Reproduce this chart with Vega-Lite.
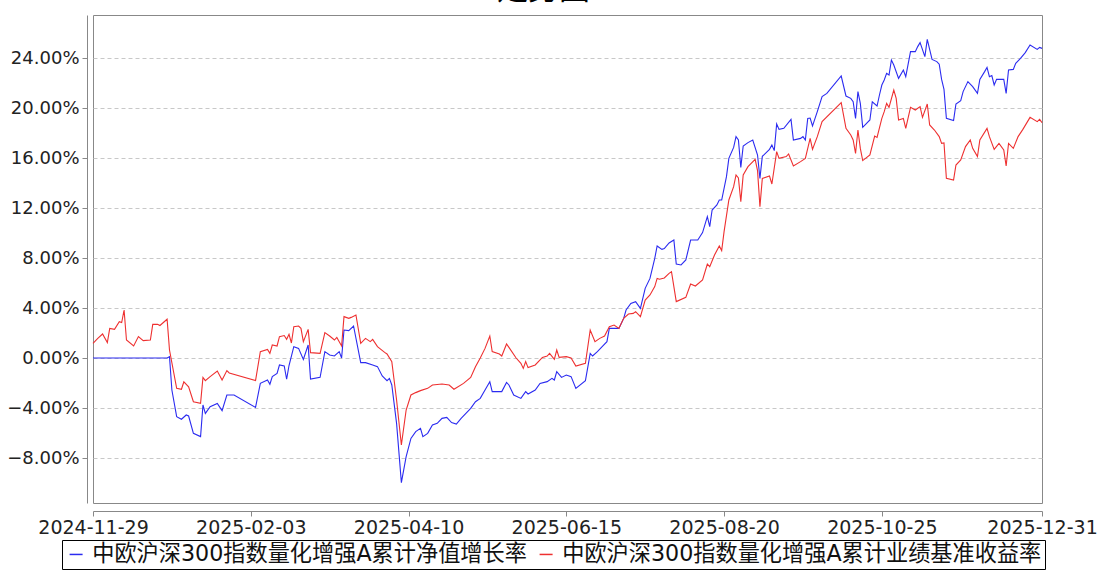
{
"$schema": "https://vega.github.io/schema/vega-lite/v6.json",
"autosize": {"type": "none"},
"width": 949, "height": 488,
"padding": {"left": 93, "top": 15, "right": 56, "bottom": 67},
"background": "white",
"title": {"text": "走势图", "fontSize": 31, "offset": 9, "dx": -24, "font": "Noto Sans CJK SC", "fontWeight": "normal", "color": "black"},
"datasets": {
"a": [
{"d":"2024-11-29","v":0},{"d":"2024-12-30","v":0},{"d":"2024-12-31","v":0.1},{"d":"2025-01-01","v":-2.56},{"d":"2025-01-03","v":-4.69},{"d":"2025-01-05","v":-4.9},{"d":"2025-01-07","v":-4.56},{"d":"2025-01-08","v":-4.64},{"d":"2025-01-10","v":-6.03},{"d":"2025-01-13","v":-6.29},{"d":"2025-01-14","v":-3.76},{"d":"2025-01-15","v":-4.43},{"d":"2025-01-17","v":-3.89},{"d":"2025-01-20","v":-3.63},{"d":"2025-01-22","v":-4.21},{"d":"2025-01-24","v":-2.96},{"d":"2025-01-27","v":-2.96},{"d":"2025-02-05","v":-3.95},{"d":"2025-02-07","v":-2.03},{"d":"2025-02-10","v":-1.76},{"d":"2025-02-11","v":-2.1},{"d":"2025-02-12","v":-1.49},{"d":"2025-02-14","v":-1.23},{"d":"2025-02-15","v":-0.56},{"d":"2025-02-17","v":-0.64},{"d":"2025-02-18","v":-1.7},{"d":"2025-02-19","v":-0.6},{"d":"2025-02-21","v":0.91},{"d":"2025-02-23","v":0.77},{"d":"2025-02-25","v":-0.11},{"d":"2025-02-27","v":1.04},{"d":"2025-02-28","v":-1.68},{"d":"2025-03-04","v":-1.55},{"d":"2025-03-06","v":0.51},{"d":"2025-03-08","v":0.24},{"d":"2025-03-10","v":0.16},{"d":"2025-03-12","v":0.51},{"d":"2025-03-13","v":0.0},{"d":"2025-03-14","v":2.24},{"d":"2025-03-16","v":2.19},{"d":"2025-03-18","v":2.56},{"d":"2025-03-21","v":-0.37},{"d":"2025-03-23","v":-0.37},{"d":"2025-03-26","v":-0.56},{"d":"2025-03-28","v":-0.69},{"d":"2025-03-30","v":-1.44},{"d":"2025-04-01","v":-1.81},{"d":"2025-04-02","v":-1.63},{"d":"2025-04-03","v":-2.16},{"d":"2025-04-05","v":-5.23},{"d":"2025-04-07","v":-9.97},{"d":"2025-04-09","v":-7.89},{"d":"2025-04-11","v":-6.43},{"d":"2025-04-13","v":-5.89},{"d":"2025-04-15","v":-5.63},{"d":"2025-04-16","v":-6.29},{"d":"2025-04-18","v":-6.03},{"d":"2025-04-20","v":-5.36},{"d":"2025-04-22","v":-5.23},{"d":"2025-04-24","v":-4.83},{"d":"2025-04-26","v":-4.75},{"d":"2025-04-28","v":-5.17},{"d":"2025-04-30","v":-5.28},{"d":"2025-05-02","v":-4.83},{"d":"2025-05-04","v":-4.43},{"d":"2025-05-06","v":-4.03},{"d":"2025-05-08","v":-3.5},{"d":"2025-05-10","v":-3.23},{"d":"2025-05-12","v":-2.56},{"d":"2025-05-14","v":-1.89},{"d":"2025-05-15","v":-2.69},{"d":"2025-05-19","v":-2.69},{"d":"2025-05-21","v":-1.95},{"d":"2025-05-22","v":-2.16},{"d":"2025-05-24","v":-2.96},{"d":"2025-05-27","v":-3.23},{"d":"2025-05-29","v":-2.69},{"d":"2025-05-30","v":-2.88},{"d":"2025-06-02","v":-2.56},{"d":"2025-06-04","v":-2.03},{"d":"2025-06-07","v":-1.89},{"d":"2025-06-09","v":-1.63},{"d":"2025-06-10","v":-1.76},{"d":"2025-06-11","v":-1.09},{"d":"2025-06-13","v":-1.55},{"d":"2025-06-15","v":-1.36},{"d":"2025-06-17","v":-1.49},{"d":"2025-06-19","v":-2.43},{"d":"2025-06-23","v":-1.81},{"d":"2025-06-25","v":0.37},{"d":"2025-06-26","v":0.16},{"d":"2025-06-28","v":0.51},{"d":"2025-06-30","v":0.91},{"d":"2025-07-02","v":1.31},{"d":"2025-07-03","v":2.37},{"d":"2025-07-05","v":2.37},{"d":"2025-07-07","v":2.37},{"d":"2025-07-09","v":3.17},{"d":"2025-07-10","v":3.84},{"d":"2025-07-12","v":4.37},{"d":"2025-07-14","v":4.51},{"d":"2025-07-16","v":3.97},{"d":"2025-07-18","v":5.57},{"d":"2025-07-20","v":6.37},{"d":"2025-07-22","v":7.97},{"d":"2025-07-23","v":8.96},{"d":"2025-07-25","v":8.69},{"d":"2025-07-26","v":8.75},{"d":"2025-07-28","v":9.2},{"d":"2025-07-30","v":9.44},{"d":"2025-07-31","v":7.52},{"d":"2025-08-02","v":7.44},{"d":"2025-08-04","v":7.84},{"d":"2025-08-06","v":9.44},{"d":"2025-08-09","v":9.44},{"d":"2025-08-11","v":10.03},{"d":"2025-08-13","v":11.31},{"d":"2025-08-14","v":10.51},{"d":"2025-08-15","v":11.84},{"d":"2025-08-17","v":12.24},{"d":"2025-08-18","v":12.64},{"d":"2025-08-19","v":12.64},{"d":"2025-08-21","v":14.51},{"d":"2025-08-22","v":15.97},{"d":"2025-08-24","v":16.85},{"d":"2025-08-25","v":17.71},{"d":"2025-08-26","v":17.44},{"d":"2025-08-27","v":15.25},{"d":"2025-08-28","v":16.96},{"d":"2025-08-30","v":17.23},{"d":"2025-09-01","v":17.44},{"d":"2025-09-03","v":16.24},{"d":"2025-09-04","v":14.37},{"d":"2025-09-05","v":16.13},{"d":"2025-09-08","v":16.69},{"d":"2025-09-09","v":17.04},{"d":"2025-09-10","v":16.59},{"d":"2025-09-11","v":18.72},{"d":"2025-09-12","v":18.29},{"d":"2025-09-14","v":18.37},{"d":"2025-09-17","v":19.09},{"d":"2025-09-18","v":17.44},{"d":"2025-09-21","v":17.57},{"d":"2025-09-22","v":17.71},{"d":"2025-09-23","v":17.44},{"d":"2025-09-24","v":19.17},{"d":"2025-09-25","v":19.2},{"d":"2025-09-26","v":18.56},{"d":"2025-09-28","v":19.71},{"d":"2025-09-30","v":20.91},{"d":"2025-10-02","v":21.17},{"d":"2025-10-08","v":22.56},{"d":"2025-10-10","v":20.96},{"d":"2025-10-12","v":20.77},{"d":"2025-10-13","v":20.5},{"d":"2025-10-14","v":19.17},{"d":"2025-10-15","v":21.31},{"d":"2025-10-16","v":20.37},{"d":"2025-10-17","v":18.45},{"d":"2025-10-20","v":19.04},{"d":"2025-10-21","v":20.5},{"d":"2025-10-23","v":20.16},{"d":"2025-10-24","v":21.04},{"d":"2025-10-25","v":21.84},{"d":"2025-10-26","v":22.24},{"d":"2025-10-27","v":22.77},{"d":"2025-10-28","v":22.64},{"d":"2025-10-29","v":23.84},{"d":"2025-10-30","v":23.44},{"d":"2025-11-01","v":22.37},{"d":"2025-11-03","v":23.04},{"d":"2025-11-04","v":22.51},{"d":"2025-11-06","v":24.51},{"d":"2025-11-08","v":24.51},{"d":"2025-11-09","v":24.91},{"d":"2025-11-10","v":25.23},{"d":"2025-11-12","v":24.11},{"d":"2025-11-13","v":25.49},{"d":"2025-11-15","v":23.89},{"d":"2025-11-17","v":23.71},{"d":"2025-11-18","v":23.5},{"d":"2025-11-19","v":22.29},{"d":"2025-11-20","v":21.49},{"d":"2025-11-21","v":19.17},{"d":"2025-11-24","v":18.99},{"d":"2025-11-25","v":20.32},{"d":"2025-11-27","v":20.59},{"d":"2025-11-28","v":21.31},{"d":"2025-11-30","v":22.11},{"d":"2025-12-02","v":21.71},{"d":"2025-12-04","v":21.17},{"d":"2025-12-05","v":22.29},{"d":"2025-12-07","v":22.91},{"d":"2025-12-08","v":23.25},{"d":"2025-12-09","v":22.51},{"d":"2025-12-10","v":22.6},{"d":"2025-12-11","v":21.84},{"d":"2025-12-12","v":22.29},{"d":"2025-12-15","v":22.29},{"d":"2025-12-16","v":21.17},{"d":"2025-12-17","v":23.04},{"d":"2025-12-19","v":23.09},{"d":"2025-12-20","v":23.57},{"d":"2025-12-22","v":23.97},{"d":"2025-12-24","v":24.43},{"d":"2025-12-26","v":25.04},{"d":"2025-12-29","v":24.69},{"d":"2025-12-30","v":24.85},{"d":"2025-12-31","v":24.77}
],
"b": [
{"d":"2024-11-29","v":1.17},{"d":"2024-12-01","v":1.57},{"d":"2024-12-03","v":1.92},{"d":"2024-12-05","v":1.23},{"d":"2024-12-06","v":2.37},{"d":"2024-12-08","v":2.29},{"d":"2024-12-10","v":2.9},{"d":"2024-12-11","v":2.83},{"d":"2024-12-12","v":3.84},{"d":"2024-12-13","v":1.44},{"d":"2024-12-16","v":0.96},{"d":"2024-12-18","v":1.71},{"d":"2024-12-20","v":1.39},{"d":"2024-12-23","v":1.44},{"d":"2024-12-24","v":2.69},{"d":"2024-12-26","v":2.69},{"d":"2024-12-27","v":2.6},{"d":"2024-12-30","v":3.1},{"d":"2024-12-31","v":0.64},{"d":"2025-01-03","v":-2.43},{"d":"2025-01-05","v":-2.5},{"d":"2025-01-06","v":-1.9},{"d":"2025-01-08","v":-2.3},{"d":"2025-01-10","v":-3.5},{"d":"2025-01-13","v":-3.63},{"d":"2025-01-14","v":-1.55},{"d":"2025-01-15","v":-1.81},{"d":"2025-01-17","v":-1.49},{"d":"2025-01-20","v":-1.04},{"d":"2025-01-22","v":-1.76},{"d":"2025-01-24","v":-1.01},{"d":"2025-01-25","v":-1.2},{"d":"2025-02-05","v":-1.81},{"d":"2025-02-07","v":0.5},{"d":"2025-02-10","v":0.69},{"d":"2025-02-11","v":0.37},{"d":"2025-02-12","v":1.04},{"d":"2025-02-14","v":0.96},{"d":"2025-02-15","v":1.71},{"d":"2025-02-17","v":1.8},{"d":"2025-02-18","v":1.5},{"d":"2025-02-19","v":1.9},{"d":"2025-02-20","v":1.2},{"d":"2025-02-21","v":2.5},{"d":"2025-02-23","v":2.56},{"d":"2025-02-24","v":2.37},{"d":"2025-02-25","v":1.31},{"d":"2025-02-27","v":2.29},{"d":"2025-02-28","v":0.43},{"d":"2025-03-04","v":0.37},{"d":"2025-03-06","v":2.03},{"d":"2025-03-08","v":1.76},{"d":"2025-03-10","v":1.44},{"d":"2025-03-11","v":1.65},{"d":"2025-03-13","v":0.96},{"d":"2025-03-14","v":3.31},{"d":"2025-03-16","v":3.17},{"d":"2025-03-17","v":3.25},{"d":"2025-03-19","v":3.44},{"d":"2025-03-21","v":1.17},{"d":"2025-03-23","v":1.57},{"d":"2025-03-25","v":1.31},{"d":"2025-03-26","v":1.49},{"d":"2025-03-28","v":0.91},{"d":"2025-03-31","v":0.45},{"d":"2025-04-01","v":0.32},{"d":"2025-04-03","v":-0.29},{"d":"2025-04-05","v":-3.36},{"d":"2025-04-07","v":-6.96},{"d":"2025-04-09","v":-4.16},{"d":"2025-04-11","v":-2.96},{"d":"2025-04-13","v":-2.77},{"d":"2025-04-15","v":-2.61},{"d":"2025-04-18","v":-2.43},{"d":"2025-04-20","v":-2.16},{"d":"2025-04-24","v":-2.08},{"d":"2025-04-27","v":-2.16},{"d":"2025-04-29","v":-2.5},{"d":"2025-05-03","v":-2.03},{"d":"2025-05-06","v":-1.55},{"d":"2025-05-08","v":-0.7},{"d":"2025-05-10","v":0.0},{"d":"2025-05-12","v":0.77},{"d":"2025-05-14","v":1.76},{"d":"2025-05-15","v":0.51},{"d":"2025-05-18","v":0.32},{"d":"2025-05-19","v":0.16},{"d":"2025-05-21","v":1.12},{"d":"2025-05-22","v":0.85},{"d":"2025-05-25","v":0},{"d":"2025-05-27","v":-0.43},{"d":"2025-05-28","v":-0.83},{"d":"2025-05-29","v":-0.29},{"d":"2025-05-30","v":-0.77},{"d":"2025-06-02","v":-0.56},{"d":"2025-06-05","v":0.05},{"d":"2025-06-07","v":0.16},{"d":"2025-06-08","v":0.37},{"d":"2025-06-10","v":-0.11},{"d":"2025-06-11","v":0.64},{"d":"2025-06-12","v":0.05},{"d":"2025-06-15","v":0.11},{"d":"2025-06-17","v":0},{"d":"2025-06-19","v":-0.64},{"d":"2025-06-23","v":-0.43},{"d":"2025-06-25","v":2.24},{"d":"2025-06-27","v":1.31},{"d":"2025-06-29","v":1.57},{"d":"2025-07-01","v":1.76},{"d":"2025-07-03","v":2.5},{"d":"2025-07-05","v":2.64},{"d":"2025-07-07","v":2.37},{"d":"2025-07-09","v":3.17},{"d":"2025-07-11","v":3.52},{"d":"2025-07-13","v":3.57},{"d":"2025-07-14","v":3.71},{"d":"2025-07-16","v":3.31},{"d":"2025-07-18","v":4.64},{"d":"2025-07-20","v":5.04},{"d":"2025-07-22","v":5.71},{"d":"2025-07-23","v":6.37},{"d":"2025-07-24","v":6.3},{"d":"2025-07-26","v":6.4},{"d":"2025-07-28","v":6.77},{"d":"2025-07-29","v":6.91},{"d":"2025-07-31","v":4.51},{"d":"2025-08-04","v":4.85},{"d":"2025-08-06","v":5.92},{"d":"2025-08-08","v":5.76},{"d":"2025-08-11","v":6.24},{"d":"2025-08-13","v":7.52},{"d":"2025-08-14","v":7.31},{"d":"2025-08-16","v":8.24},{"d":"2025-08-18","v":8.96},{"d":"2025-08-19","v":8.59},{"d":"2025-08-20","v":10.11},{"d":"2025-08-22","v":12.64},{"d":"2025-08-24","v":13.71},{"d":"2025-08-25","v":14.64},{"d":"2025-08-26","v":14.4},{"d":"2025-08-27","v":12.51},{"d":"2025-08-28","v":14.64},{"d":"2025-08-30","v":15.31},{"d":"2025-09-02","v":15.89},{"d":"2025-09-03","v":14.99},{"d":"2025-09-04","v":12.11},{"d":"2025-09-05","v":14.37},{"d":"2025-09-08","v":14.56},{"d":"2025-09-09","v":13.92},{"d":"2025-09-11","v":16.51},{"d":"2025-09-12","v":15.97},{"d":"2025-09-15","v":16.11},{"d":"2025-09-16","v":16.32},{"d":"2025-09-18","v":15.36},{"d":"2025-09-21","v":15.71},{"d":"2025-09-23","v":15.97},{"d":"2025-09-25","v":17.57},{"d":"2025-09-26","v":16.69},{"d":"2025-09-28","v":17.71},{"d":"2025-09-30","v":18.91},{"d":"2025-10-08","v":20.43},{"d":"2025-10-10","v":18.37},{"d":"2025-10-12","v":17.84},{"d":"2025-10-13","v":17.44},{"d":"2025-10-14","v":16.37},{"d":"2025-10-15","v":18.24},{"d":"2025-10-16","v":16.77},{"d":"2025-10-17","v":15.79},{"d":"2025-10-20","v":16.24},{"d":"2025-10-22","v":17.76},{"d":"2025-10-23","v":17.65},{"d":"2025-10-25","v":19.17},{"d":"2025-10-26","v":19.71},{"d":"2025-10-27","v":20.37},{"d":"2025-10-28","v":20.05},{"d":"2025-10-30","v":21.44},{"d":"2025-10-31","v":20.77},{"d":"2025-11-01","v":19.04},{"d":"2025-11-03","v":19.17},{"d":"2025-11-04","v":18.37},{"d":"2025-11-06","v":20.05},{"d":"2025-11-08","v":19.84},{"d":"2025-11-10","v":20.11},{"d":"2025-11-11","v":19.25},{"d":"2025-11-13","v":20.32},{"d":"2025-11-14","v":18.64},{"d":"2025-11-16","v":18.24},{"d":"2025-11-18","v":17.71},{"d":"2025-11-19","v":17.17},{"d":"2025-11-20","v":17.2},{"d":"2025-11-21","v":14.37},{"d":"2025-11-24","v":14.24},{"d":"2025-11-25","v":15.44},{"d":"2025-11-27","v":15.84},{"d":"2025-11-29","v":16.91},{"d":"2025-12-01","v":17.44},{"d":"2025-12-02","v":16.77},{"d":"2025-12-04","v":16.11},{"d":"2025-12-05","v":17.44},{"d":"2025-12-08","v":18.37},{"d":"2025-12-09","v":17.71},{"d":"2025-12-11","v":16.69},{"d":"2025-12-13","v":17.17},{"d":"2025-12-15","v":16.64},{"d":"2025-12-16","v":15.36},{"d":"2025-12-17","v":17.17},{"d":"2025-12-19","v":16.77},{"d":"2025-12-21","v":17.71},{"d":"2025-12-23","v":18.29},{"d":"2025-12-26","v":19.25},{"d":"2025-12-29","v":18.91},{"d":"2025-12-30","v":19.09},{"d":"2025-12-31","v":18.83}
]
},
"layer": [
{"data": {"name": "a"}, "mark": {"type": "line", "strokeWidth": 1.1, "color": "#2b2bf0"},
 "encoding": {
  "x": {"field": "d", "type": "temporal",
   "scale": {"type": "utc", "domain": [{"year": 2024, "month": 11, "date": 29, "utc": true}, {"year": 2025, "month": 12, "date": 31, "utc": true}]},
   "axis": {"title": null, "format": "%Y-%m-%d", "offset": 8, "grid": false,
    "values": [{"year": 2024, "month": 11, "date": 29, "utc": true}, {"year": 2025, "month": 2, "date": 3, "utc": true}, {"year": 2025, "month": 4, "date": 10, "utc": true}, {"year": 2025, "month": 6, "date": 15, "utc": true}, {"year": 2025, "month": 8, "date": 20, "utc": true}, {"year": 2025, "month": 10, "date": 25, "utc": true}, {"year": 2025, "month": 12, "date": 31, "utc": true}],
    "labelFontSize": 19, "labelFont": "DejaVu Sans", "labelColor": "#222", "labelPadding": 2, "tickSize": 5, "labelOverlap": false, "labelFlush": false,
    "domainColor": "#888", "tickColor": "#888"}},
  "y": {"field": "v", "type": "quantitative",
   "scale": {"domain": [-11.6, 27.44], "nice": false, "zero": false},
   "axis": {"title": null, "values": [-8, -4, 0, 4, 8, 12, 16, 20, 24], "offset": 6,
    "labelExpr": "format(datum.value, '.2f') + '%'",
    "labelFontSize": 18, "labelFont": "DejaVu Sans", "labelColor": "#222", "labelPadding": 3, "tickSize": 5,
    "domainColor": "#888", "tickColor": "#888",
    "grid": true, "gridDash": [4, 3], "gridColor": "#c8c8c8", "gridWidth": 1}},
  "color": {"datum": "a", "type": "nominal",
   "scale": {"domain": ["a", "b"], "range": ["#2b2bf0", "#ee3030"]},
   "legend": {"orient": "none", "legendX": -31, "legendY": 525, "direction": "horizontal", "title": null,
    "symbolType": "stroke", "symbolSize": 169, "symbolStrokeWidth": 1.5,
    "labelFontSize": 22.2, "labelFont": "DejaVu Sans, Noto Sans CJK SC", "labelColor": "#111", "labelLimit": 1000,
    "strokeColor": "black", "padding": 3, "columnPadding": 8, "labelOffset": 5,
    "labelExpr": "datum.label == 'a' ? '中欧沪深300指数量化增强A累计净值增长率' : '中欧沪深300指数量化增强A累计业绩基准收益率'"}}
 }},
{"data": {"name": "b"}, "mark": {"type": "line", "strokeWidth": 1.1, "color": "#ee3030"},
 "encoding": {
  "x": {"field": "d", "type": "temporal"},
  "y": {"field": "v", "type": "quantitative"},
  "color": {"datum": "b", "type": "nominal"}
 }}
],
"config": {"view": {"stroke": "#888", "strokeWidth": 1}}
}
